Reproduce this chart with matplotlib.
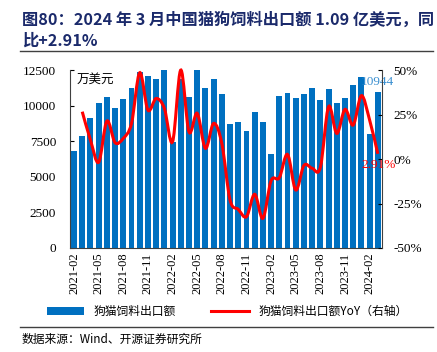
import matplotlib
matplotlib.use("Agg")
import matplotlib.pyplot as plt
from matplotlib.path import Path
from matplotlib.patches import PathPatch
from matplotlib.lines import Line2D
from matplotlib.patches import Patch
import numpy as np

plt.rcParams["font.family"] = ["Liberation Serif", "Noto Sans CJK SC", "DejaVu Sans"]

months = [f"{y}-{m:02d}" for y in (2021, 2022, 2023, 2024) for m in range(1, 13)]
months = months[1:39]  # 2021-02 .. 2024-03

export = [6810, 7870, 9110, 10160, 10580, 9860, 10440, 11240, 12380, 12080, 11850, 12600,
          7470, 11850, 10580, 12600, 11210, 11850, 10820, 8690, 8870, 8220, 9530, 8830,
          6580, 10700, 10860, 10560, 10840, 11240, 10390, 11190, 10160, 10510, 11430, 11990,
          8010, 10944]

yoy = [None, 26.6, 10.7, -1.8, 21.3, 9.2, 11.6, 20.0, 48.5, 27.5, 34.0, 28.5,
       9.7, 50.0, 15.3, 25.7, 6.0, 20.0, 8.8, -23.0, -28.3, -32.4, -19.8, -33.3,
       -12.2, -10.5, 2.6, -17.4, -3.6, -5.2, -4.7, 29.4, 14.4, 27.9, 19.1, 35.6,
       21.9, 2.91]

navy = "#1B2A6B"
bar_c = "#0070C0"

fig = plt.figure(figsize=(4.37, 3.52), dpi=100)
ax = fig.add_axes([0.160, 0.2955, 0.714, 0.5055])
x = np.arange(len(months))
ax.bar(x, export, width=0.72, color=bar_c, zorder=2)
ax.set_xlim(-0.5, len(months) - 0.5)
ax.set_ylim(0, 12500)
ax.set_yticks(range(0, 12501, 2500))
ax.tick_params(axis="y", direction="in", length=3, labelsize=9.5, pad=10)
ax.set_xticks(x[::3])
ax.set_xticklabels(months[::3], rotation=90, fontsize=9)
ax.tick_params(axis="x", direction="in", length=3)
ax.spines["top"].set_visible(False)
ax.spines["right"].set_visible(False)
for s in ("left", "bottom"):
    ax.spines[s].set_color("#404040")
ax.text(0.02, 0.985, "万美元", transform=ax.transAxes, fontsize=9,
        family=["Noto Sans CJK SC"], va="top", ha="left")

ax2 = ax.twinx()
ax2.set_ylim(-50, 50)
ax2.set_yticks([-50, -25, 0, 25, 50])
ax2.set_yticklabels(["-50%", "-25%", "0%", "25%", "50%"])
ax2.tick_params(axis="y", direction="in", length=3, labelsize=9.5, pad=8)
ax2.spines["top"].set_visible(False)
ax2.spines["left"].set_visible(False)
ax2.spines["bottom"].set_visible(False)
ax2.spines["right"].set_color("#404040")

# smoothed line (Catmull-Rom converted to cubic Bezier)
px = np.array([i for i, v in enumerate(yoy) if v is not None], dtype=float)
py = np.array([v for v in yoy if v is not None], dtype=float)
verts = [(px[0], py[0])]
codes = [Path.MOVETO]
n = len(px)
for i in range(n - 1):
    p0 = np.array([px[max(i - 1, 0)], py[max(i - 1, 0)]])
    p1 = np.array([px[i], py[i]])
    p2 = np.array([px[i + 1], py[i + 1]])
    p3 = np.array([px[min(i + 2, n - 1)], py[min(i + 2, n - 1)]])
    c1 = p1 + (p2 - p0) / 6
    c2 = p2 - (p3 - p1) / 6
    verts += [tuple(c1), tuple(c2), tuple(p2)]
    codes += [Path.CURVE4] * 3
ax2.add_patch(PathPatch(Path(verts, codes), fill=False, edgecolor="#FF0000",
                        lw=2.2, zorder=3, clip_on=False))

ax.text(len(months) - 1, export[-1] + 300, f"{export[-1]}", color="#3A8FD0",
        fontsize=9.5, ha="center", va="bottom")
ax2.text(len(months) - 0.9, yoy[-1] - 6.3, f"{yoy[-1]:.2f}%", color="#FF0000",
         fontsize=9.5, ha="center", va="center")

handles = [Patch(facecolor=bar_c, label="狗猫饲料出口额"),
           Line2D([0], [0], color="#FF0000", lw=2.2, label="狗猫饲料出口额YoY（右轴）")]
fig.legend(handles=handles, loc="center", bbox_to_anchor=(0.52, 0.115), ncol=2,
           frameon=False, handlelength=3.2, columnspacing=3,
           prop={"family": ["Noto Sans CJK SC"], "size": 8.5})

fig.text(0.05, 0.945, "图80：2024 年 3 月中国猫狗饲料出口额 1.09 亿美元，同",
         fontsize=11.7, fontweight="bold", color=navy, va="center",
         family=["Noto Sans CJK SC"])
fig.text(0.05, 0.885, "比+2.91%", fontsize=11.7, fontweight="bold", color=navy,
         va="center", family=["Noto Sans CJK SC"])
fig.add_artist(Line2D([0.045, 0.99], [0.855, 0.855], color="#404040", lw=1))
fig.add_artist(Line2D([0.045, 0.99], [0.072, 0.072], color="#404040", lw=1))
fig.text(0.05, 0.035, "数据来源：Wind、开源证券研究所", fontsize=8.5, va="center",
         family=["Noto Sans CJK SC"])

fig.savefig("out.png", dpi=100)
